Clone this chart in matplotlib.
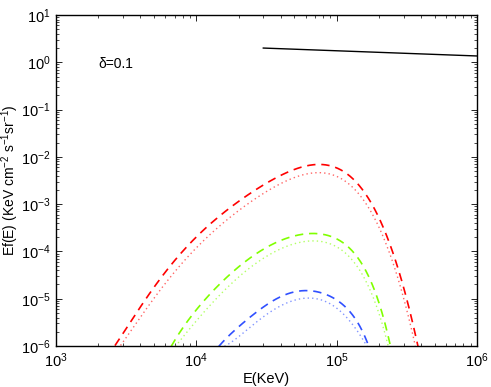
import numpy as np
import matplotlib
matplotlib.use("Agg")
import matplotlib.pyplot as plt
from matplotlib.ticker import LogLocator, NullFormatter, FuncFormatter

plt.rcParams['font.family'] = ['Liberation Sans', 'DejaVu Sans']
plt.rcParams['mathtext.fontset'] = 'custom'
plt.rcParams['mathtext.rm'] = 'Liberation Sans'
plt.rcParams['mathtext.it'] = 'Liberation Sans'
plt.rcParams['mathtext.default'] = 'regular'

# log10(E) and log10(Ef(E))
red_dash_logE = [3.42, 3.55, 3.69, 3.82, 4.00, 4.19, 4.38, 4.57, 4.74, 4.89, 5.07, 5.21, 5.33, 5.43, 5.52, 5.58]
red_dash_logY = [-6.0, -5.38, -4.81, -4.29, -3.69, -3.19, -2.77, -2.45, -2.21, -2.19, -2.35, -2.77, -3.48, -4.32, -5.24, -6.01]
red_dot_logE = [3.46, 3.58, 3.72, 3.85, 4.02, 4.21, 4.40, 4.58, 4.75, 4.89, 5.06, 5.20, 5.32, 5.42, 5.51, 5.56]
red_dot_logY = [-6.0, -5.45, -4.93, -4.43, -3.84, -3.35, -2.93, -2.61, -2.37, -2.35, -2.51, -2.93, -3.62, -4.44, -5.32, -6.01]

green_dash_logE = [3.82, 3.93, 4.03, 4.13, 4.24, 4.36, 4.50, 4.64, 4.86, 5.02, 5.14, 5.23, 5.29, 5.34, 5.38]
green_dash_logY = [-6.01, -5.52, -5.10, -4.81, -4.50, -4.18, -3.90, -3.74, -3.62, -3.76, -4.11, -4.53, -4.96, -5.52, -5.94]
green_dot_logE = [3.85, 3.96, 4.06, 4.16, 4.26, 4.38, 4.52, 4.66, 4.86, 5.01, 5.13, 5.22, 5.28, 5.33, 5.37]
green_dot_logY = [-6.01, -5.62, -5.24, -4.96, -4.66, -4.34, -4.06, -3.89, -3.77, -3.92, -4.27, -4.68, -5.10, -5.64, -6.01]

blue_dash_logE = [4.16, 4.26, 4.36, 4.48, 4.60, 4.70, 4.81, 4.95, 5.07, 5.15, 5.20, 5.23]
blue_dash_logY = [-6.01, -5.70, -5.45, -5.17, -4.96, -4.85, -4.83, -4.96, -5.17, -5.52, -5.80, -6.01]
blue_dot_logE = [4.20, 4.29, 4.39, 4.50, 4.62, 4.72, 4.82, 4.95, 5.06, 5.14, 5.19, 5.22]
blue_dot_logY = [-6.01, -5.82, -5.60, -5.33, -5.12, -5.01, -4.99, -5.12, -5.33, -5.66, -5.90, -6.01]

black_E = [3.0e4, 1.0e6]
black_Y = [2.0, 1.36]

xlabel = "E(KeV)"
ylabel = r"Ef(E) (KeV cm$^{-2}$ s$^{-1}$sr$^{-1}$)"
annot = "δ=0.1"


def smooth(lx, ly, deg=6, n=300):
    lx = np.asarray(lx, float); ly = np.asarray(ly, float)
    c = np.polyfit(lx, ly, deg)
    t = np.linspace(lx[0], lx[-1], n)
    return 10**t, 10**np.polyval(c, t)


fig = plt.figure(figsize=(4.91, 3.87), dpi=100)
ax = fig.add_axes([56/491, 1-346/387, (477-56)/491, (346-15)/387])

red = '#ff0000'; green = '#80ff00'; blue = '#3050ff'
dash = (0, (5, 3.5)); dot = (0, (1, 2.2))
for lx, ly, c, ls, a, lw in [
    (red_dash_logE, red_dash_logY, red, dash, 1.0, 1.2),
    (red_dot_logE, red_dot_logY, red, dot, 0.6, 1.0),
    (green_dash_logE, green_dash_logY, green, dash, 1.0, 1.2),
    (green_dot_logE, green_dot_logY, green, dot, 0.6, 1.0),
    (blue_dash_logE, blue_dash_logY, blue, dash, 1.0, 1.2),
    (blue_dot_logE, blue_dot_logY, blue, dot, 0.6, 1.0),
]:
    x, y = smooth(lx, ly)
    ax.plot(x, y, color=c, linestyle=ls, linewidth=lw, alpha=a)

ax.plot(black_E, black_Y, color='black', linewidth=1.0)

ax.set_xscale('log'); ax.set_yscale('log')
ax.set_xlim(1e3, 1e6); ax.set_ylim(1e-6, 1e1)
ax.xaxis.set_major_locator(LogLocator(base=10, numticks=10))
ax.yaxis.set_major_locator(LogLocator(base=10, numticks=10))
ax.xaxis.set_minor_locator(LogLocator(base=10, subs=np.arange(2, 10), numticks=20))
ax.yaxis.set_minor_locator(LogLocator(base=10, subs=np.arange(2, 10), numticks=20))
ax.xaxis.set_minor_formatter(NullFormatter()); ax.yaxis.set_minor_formatter(NullFormatter())

def fmt(v, pos):
    e = int(round(np.log10(v)))
    s = str(e).replace('-', '\u2212')
    return r"10$^{%s}$" % s

ax.xaxis.set_major_formatter(FuncFormatter(fmt))
ax.yaxis.set_major_formatter(FuncFormatter(fmt))
ax.tick_params(which='both', direction='in', top=True, right=True, labelsize=10.5, colors='black')
ax.tick_params(which='major', length=4, width=0.6, pad=4)
ax.tick_params(which='minor', length=2, width=0.5)
for s in ax.spines.values():
    s.set_linewidth(1.0)

ax.text(2000, 0.92, annot, fontsize=10, va='center', ha='left')
ax.set_xlabel(xlabel, fontsize=10.5)
ax.set_ylabel(ylabel, fontsize=10)
ax.xaxis.set_label_coords(0.5, -0.08)
ax.yaxis.set_label_coords(-0.083, 0.5)

fig.savefig("out.png", dpi=100)
